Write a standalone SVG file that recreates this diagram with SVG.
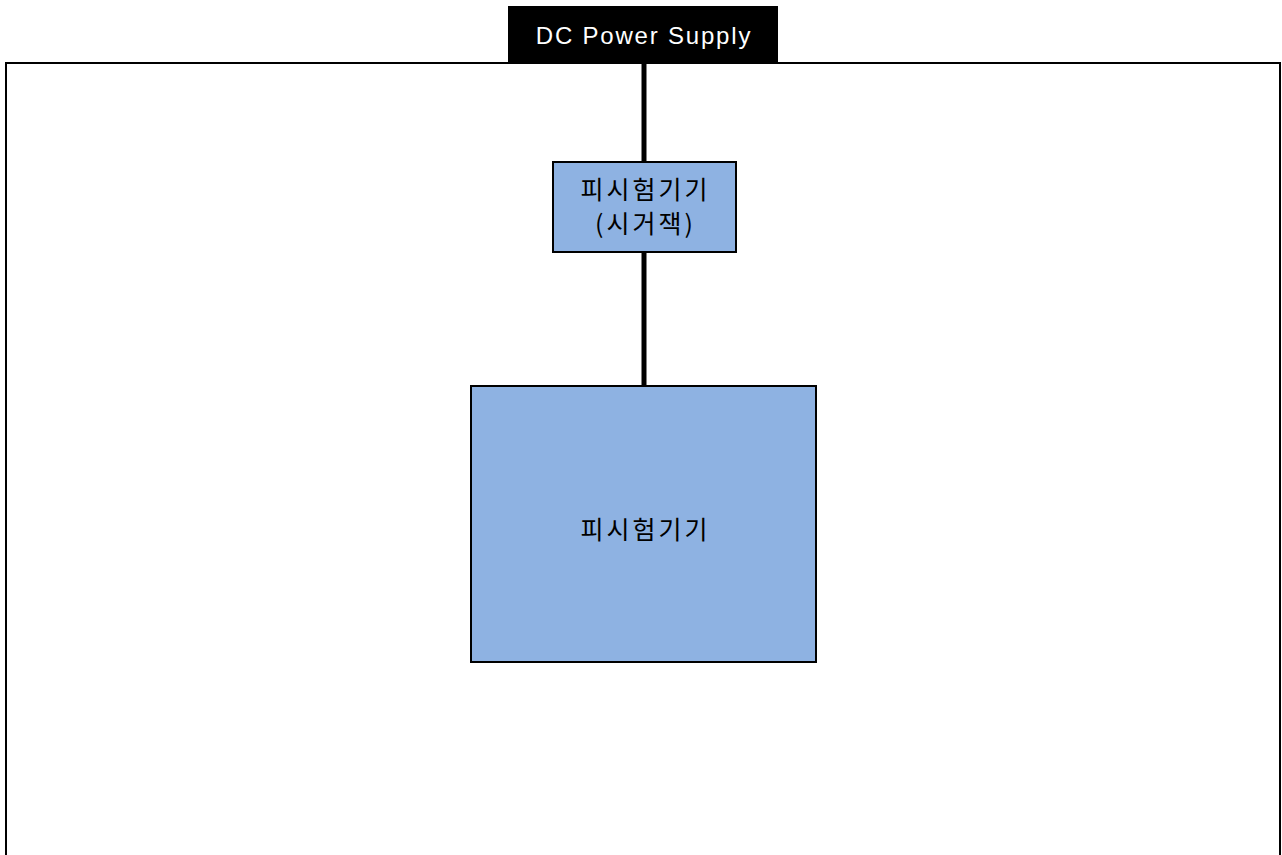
<svg xmlns="http://www.w3.org/2000/svg" width="1282" height="855" viewBox="0 0 1282 855">
<style>
.box{fill:#8EB2E2;stroke:#000;stroke-width:2}
.lbl{font-family:"Noto Sans CJK KR","Noto Sans",sans-serif;font-size:25px;fill:#000;text-anchor:middle;letter-spacing:3px}
.conn{stroke:#000;stroke-width:5;fill:none}
</style>
<rect width="1282" height="855" fill="#fff"/>
<g id="frame"><rect x="6" y="63" width="1274" height="820" fill="none" stroke="#000" stroke-width="2"/></g>
<g id="connectors">
<line class="conn" x1="644" y1="62" x2="644" y2="162"/>
<line class="conn" x1="644" y1="252" x2="644" y2="386"/>
</g>
<g id="dc-power-supply">
<rect x="508" y="6" width="270" height="56" fill="#000"/>
<text x="644" y="44" font-family="'Liberation Sans',Arial,sans-serif" font-size="24" fill="#fff" text-anchor="middle" letter-spacing="1.8">DC Power Supply</text>
</g>
<g id="jig">
<rect class="box" x="553" y="162" width="183" height="90"/>
<text class="lbl" x="645.5" y="199">피시험기기</text>
<text class="lbl" x="645.5" y="233">(시거잭)</text>
</g>
<g id="dut">
<rect class="box" x="471" y="386" width="345" height="276"/>
<text class="lbl" x="645.5" y="539">피시험기기</text>
</g>
</svg>
